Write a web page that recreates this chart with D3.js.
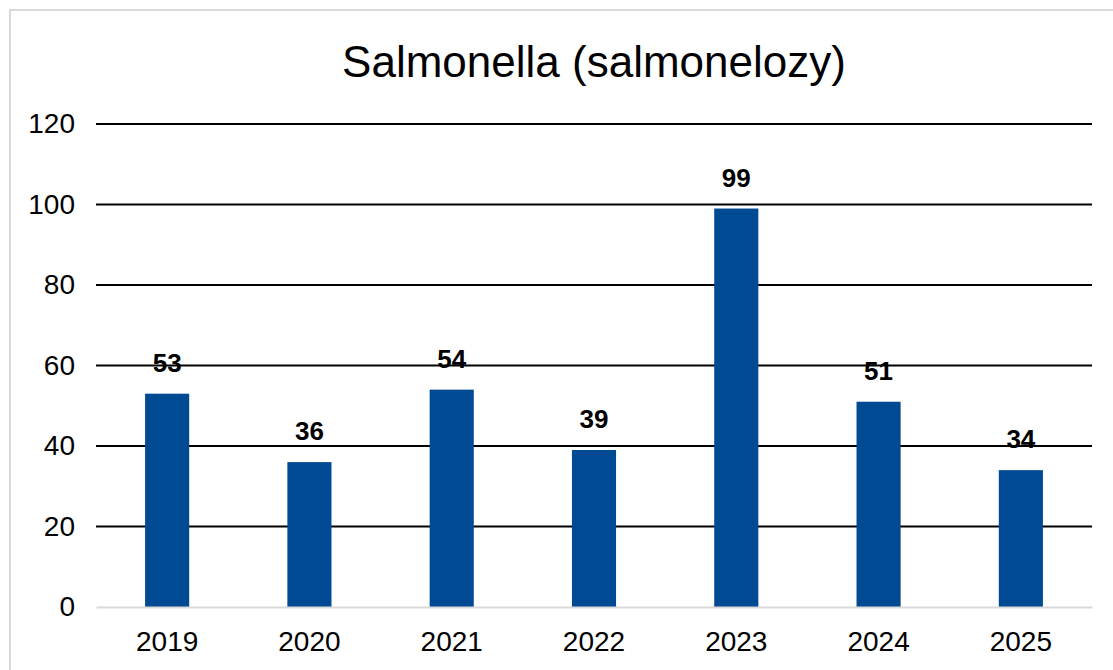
<!DOCTYPE html>
<html>
<head>
<meta charset="utf-8">
<script src="https://cdn.jsdelivr.net/npm/d3@7"></script>
<style>
  body { margin: 0; background: #fff; }
  svg { display: block; font-family: "Liberation Sans", Arial, sans-serif; }
</style>
</head>
<body>
<div id="chart"></div>
<script>
const years = ["2019", "2020", "2021", "2022", "2023", "2024", "2025"];
const cases = [53, 36, 54, 39, 99, 51, 34];
const yTicks = [0, 20, 40, 60, 80, 100, 120];
const title = "Salmonella (salmonelozy)";

const width = 1113;
const height = 670;
const margin = { top: 124, right: 21, bottom: 63, left: 96 };

const svg = d3
  .select("#chart")
  .append("svg")
  .attr("width", width)
  .attr("height", height);

// outer chart border (only top/left visible in the crop)
svg
  .append("rect")
  .attr("x", 10)
  .attr("y", 10)
  .attr("width", width + 20)
  .attr("height", height + 20)
  .attr("fill", "#fff")
  .attr("stroke", "#d9d9d9")
  .attr("stroke-width", 2);

const x = d3
  .scaleBand()
  .domain(years)
  .range([margin.left, width - margin.right])
  .paddingInner(0.69)
  .paddingOuter(0.345);

const y = d3
  .scaleLinear()
  .domain([0, 120])
  .range([height - margin.bottom, margin.top]);

// gridlines
svg
  .append("g")
  .selectAll("line")
  .data(yTicks.filter((d) => d > 0))
  .join("line")
  .attr("x1", margin.left)
  .attr("x2", width - margin.right)
  .attr("y1", (d) => y(d))
  .attr("y2", (d) => y(d))
  .attr("stroke", "#000")
  .attr("stroke-width", 2);

// y axis labels
const yAxis = svg
  .append("g")
  .attr("transform", `translate(${margin.left - 21}, 0)`)
  .call(d3.axisLeft(y).tickValues(yTicks).tickSize(0).tickPadding(0));
yAxis.select(".domain").remove();
yAxis
  .selectAll("text")
  .attr("font-size", 28)
  .attr("font-family", "Liberation Sans, Arial, sans-serif")
  .attr("fill", "#000");

// bars
svg
  .append("g")
  .selectAll("rect")
  .data(years)
  .join("rect")
  .attr("x", (d) => x(d))
  .attr("y", (d, i) => y(cases[i]))
  .attr("width", x.bandwidth())
  .attr("height", (d, i) => y(0) - y(cases[i]))
  .attr("fill", "#004a93");

// x axis
const xAxis = svg
  .append("g")
  .attr("transform", `translate(0, ${y(0)})`)
  .call(d3.axisBottom(x).tickSize(0).tickPadding(24));
xAxis.select(".domain").attr("stroke", "#d9d9d9").attr("stroke-width", 2);
xAxis
  .selectAll("text")
  .attr("font-size", 28)
  .attr("font-family", "Liberation Sans, Arial, sans-serif")
  .attr("fill", "#000");

// value labels
svg
  .append("g")
  .selectAll("text")
  .data(years)
  .join("text")
  .attr("x", (d) => x(d) + x.bandwidth() / 2)
  .attr("y", (d, i) => y(cases[i]) - 22)
  .attr("text-anchor", "middle")
  .attr("font-size", 26)
  .attr("font-weight", "bold")
  .attr("fill", "#000")
  .text((d, i) => cases[i]);

// title
svg
  .append("text")
  .attr("x", (margin.left + width - margin.right) / 2)
  .attr("y", 77)
  .attr("text-anchor", "middle")
  .attr("font-size", 44)
  .attr("fill", "#000")
  .text(title);
</script>
</body>
</html>
